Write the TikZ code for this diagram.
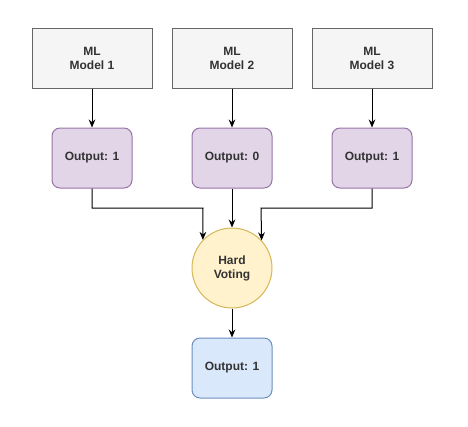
\documentclass[tikz,border=0pt]{standalone}
\usepackage{fontspec}
\setmainfont{Liberation Sans}
\usetikzlibrary{arrows.meta}
\definecolor{grayfill}{HTML}{F5F5F5}
\definecolor{graydraw}{HTML}{666666}
\definecolor{purfill}{HTML}{E1D5E7}
\definecolor{purdraw}{HTML}{9673A6}
\definecolor{yelfill}{HTML}{FFF2CC}
\definecolor{yeldraw}{HTML}{D6B656}
\definecolor{blufill}{HTML}{DAE8FC}
\definecolor{bludraw}{HTML}{6C8EBF}
\definecolor{txt}{HTML}{333333}
\tikzset{
  base/.style={line width=0.75pt, font=\fontsize{9}{10.5}\selectfont\bfseries, text=txt, align=center, inner sep=0pt},
  modelbox/.style={base, rectangle, draw=graydraw, fill=grayfill, minimum width=90pt, minimum height=45pt},
  outbox/.style={base, rectangle, rounded corners=6pt, draw=purdraw, fill=purfill, minimum width=60pt, minimum height=45pt},
  finalbox/.style={base, rectangle, rounded corners=6pt, draw=bludraw, fill=blufill, minimum width=60pt, minimum height=45pt},
  votecircle/.style={base, circle, draw=yeldraw, fill=yelfill, minimum size=60pt},
  conn/.style={line width=0.75pt, -{Stealth[length=6pt,width=5pt]}}
}
\begin{document}
\begin{tikzpicture}[x=0.75pt,y=-0.75pt]
\useasboundingbox (0,0) rectangle (468,426);
\node[modelbox] (m1) at (92,58) {ML\\Model 1};
\node[modelbox] (m2) at (232,58) {ML\\Model 2};
\node[modelbox] (m3) at (372,58) {ML\\Model 3};
\node[outbox] (o1) at (92,158) {Output: 1};
\node[outbox] (o2) at (232,158) {Output: 0};
\node[outbox] (o3) at (372,158) {Output: 1};
\node[votecircle] (v) at (232,268) {Hard\\Voting};
\node[finalbox] (f) at (232,368) {Output: 1};
\coordinate (c1) at (203,208);
\coordinate (c3) at (261,208);
\draw[conn] (o1.south) |- (c1) -- (v.{136.5});
\draw[conn] (o2) -- (v);
\draw[conn] (o3.south) |- (c3) -- (v.{43.5});
\draw[conn] (m1) -- (o1);
\draw[conn] (m2) -- (o2);
\draw[conn] (m3) -- (o3);
\draw[conn] (v) -- (f);
\end{tikzpicture}
\end{document}
